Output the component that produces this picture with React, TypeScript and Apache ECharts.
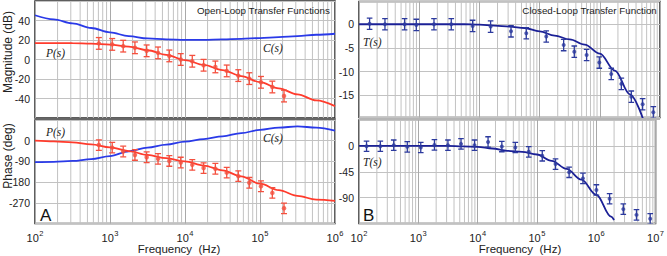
import React, { useEffect, useRef } from "react";
import * as echarts from "echarts";

// ---------- data ----------
// Open-loop curves (left panel), quarter-decade samples
const leftCurveF = [100, 178, 316, 562, 1000, 1778, 3162, 5623, 10000, 17783, 31623, 56234, 100000, 177828, 316228, 562341, 1000000];
const pMagCurve = [16.8, 16.8, 16.7, 16.3, 15.3, 13.2, 9.5, 4.8, -0.6, -5.6, -10.8, -17.0, -23.2, -29.6, -35.8, -42.0, -47.8];
const cMagCurve = [45.4, 41.2, 37.1, 32.3, 27.8, 24.0, 21.6, 20.6, 20.2, 20.2, 20.6, 21.2, 22.0, 23.0, 24.0, 25.4, 26.4];
const pPhaseCurve = [0, -3, -7, -16, -29, -45, -62, -76, -90, -108, -129, -155, -187, -215, -240, -256, -262];
const cPhaseCurve = [-93, -92, -88, -80, -67, -46, -30, -17, -4, 7, 19, 33, 47, 57, 62, 57, 44];

// Open-loop measurements
const pPointF = [710, 1070, 1500, 2150, 3080, 4370, 6180, 8770, 12500, 17700, 25400, 36000, 51400, 72000, 103000, 146000, 209000];
const pMagPts = [16.5, 15.5, 13.7, 12, 8.9, 6.8, 3.7, 0, -1.8, -5.9, -7.6, -11.7, -16.5, -19.6, -23.4, -28.2, -37.5];
const pPhasePts = [-19, -30, -47, -62, -72, -79, -88, -95, -105, -119, -122, -139, -154, -183, -198, -227, -294];
const pMagErr = 6;
const pPhaseErr = 23;

// Closed-loop curves (right panel)
const tMagCurveF = [100, 178, 316, 562, 1000, 1778, 3162, 5623, 10000, 17783, 31623, 56234, 100000, 177828, 316228, 562341, 1000000, 1778279, 3162278, 5623413];
const tMagCurve = [0, 0, 0, 0, 0, 0, 0, 0, -0.1, -0.3, -0.5, -0.8, -1.5, -2.4, -3.2, -4.3, -6.2, -9.8, -14.8, -21.2];
const tPhaseCurveF = [100, 178, 316, 562, 1000, 1778, 3162, 5623, 10000, 17783, 31623, 56234, 100000, 177828, 316228, 562341, 1000000, 1778279, 2000000];
const tPhaseCurve = [0, 0, 0, 0, 0, 0, 0, -1, -1.7, -4.6, -8.7, -10.4, -15, -26, -40, -58.8, -85, -123, -129];

// Closed-loop measurements
const tMagF = [150, 270, 572, 895, 1760, 3410, 7710, 15350, 33500, 60100, 129000, 251000, 377000, 604000, 981000, 1550000, 2280000, 3340000, 5140000, 7740000];
const tMagPts = [0.1, 0, 0, -0.15, 0, 0, -0.36, -0.5, -1.5, -1.9, -2.6, -4.4, -5.8, -6.5, -8.1, -10.5, -12.6, -15.3, -16.9, -18.6];
const tPhaseF = [134, 229, 385, 652, 1100, 1870, 3160, 5250, 8870, 15000, 25600, 43200, 72800, 123000, 206000, 349000, 597000, 1007000, 1680000, 2860000, 4770000, 8130000];
const tPhasePts = [-0.6, -0.6, 1.2, -1.7, -2.9, 1.7, 1.2, 3.5, 1.2, 6.9, -1.2, -2.9, -10.4, -17.3, -31.7, -46, -56.5, -76.6, -91.9, -110, -120, -126.8];
const tMagErr = 1.2;
const tPhaseErr = 9;

// axis ranges / ticks
const leftDecades = [2, 3, 4, 5];
const rightDecades = [2, 3, 4, 5, 6];
const magTicksLeft = [-40, -20, 0, 20, 40];
const phaseTicksLeft = [0, -90, -180, -270];
const magTicksRight = [0, -5, -10, -15];
const phaseTicksRight = [0, -45, -90];

// ---------- styling ----------
const RED = "#ff3b2c";
const RED_PT = "#f4503f";
const BLUE = "#2a3ae8";
const NAVY = "#1b2096";
const NAVY_PT = "#2c3a9e";
const GRID_MINOR = "#c2c2c2";
const GRID_MAJOR = "#a9a9a9";
const FRAME = "#2a2a2a";
const SANS = "Liberation Sans, Arial, sans-serif";
const SERIF = "Liberation Serif, Times New Roman, serif";

const zip = (xs: number[], ys: number[]) => xs.map((x, i) => [x, ys[i]]);
const errData = (xs: number[], ys: number[], e: number) => xs.map((x, i) => [x, ys[i] - e, ys[i] + e, ys[i]]);

function minorFreqs(decades: number[]) {
  const out: number[] = [];
  decades.forEach((d) => {
    for (let k = 2; k <= 9; k++) out.push(k * Math.pow(10, d));
  });
  return out;
}

function vGridSeries(xi: number, freqs: number[]) {
  return {
    type: "custom",
    xAxisIndex: xi,
    yAxisIndex: xi,
    z: 1,
    silent: true,
    clip: true,
    data: freqs.map((f) => [f]),
    encode: { x: 0 },
    renderItem: (params: any, api: any) => {
      const cs = params.coordSys;
      const x = api.coord([api.value(0), 0])[0];
      return {
        type: "line",
        shape: { x1: x, y1: cs.y, x2: x, y2: cs.y + cs.height },
        style: { stroke: GRID_MINOR, lineWidth: 1 },
      };
    },
  };
}

function errSeries(xi: number, data: number[][], color: string, cap: number) {
  return {
    type: "custom",
    xAxisIndex: xi,
    yAxisIndex: xi,
    z: 4,
    silent: true,
    clip: true,
    data,
    encode: { x: 0, y: [1, 2] },
    renderItem: (params: any, api: any) => {
      const x = api.value(0);
      const p1 = api.coord([x, api.value(1)]);
      const p2 = api.coord([x, api.value(2)]);
      const style = { stroke: color, lineWidth: 1.3 };
      return {
        type: "group",
        children: [
          { type: "line", shape: { x1: p1[0], y1: p1[1], x2: p2[0], y2: p2[1] }, style },
          { type: "line", shape: { x1: p1[0] - cap, y1: p1[1], x2: p1[0] + cap, y2: p1[1] }, style },
          { type: "line", shape: { x1: p2[0] - cap, y1: p2[1], x2: p2[0] + cap, y2: p2[1] }, style },
        ],
      };
    },
  };
}

function lineSeries(xi: number, data: number[][], color: string, width: number) {
  return {
    type: "line",
    xAxisIndex: xi,
    yAxisIndex: xi,
    data,
    z: 3,
    smooth: 0.35,
    smoothMonotone: "x",
    showSymbol: false,
    symbol: "none",
    clip: true,
    silent: true,
    lineStyle: { color, width },
  };
}

function scatterSeries(xi: number, data: number[][], color: string, size: number) {
  return {
    type: "scatter",
    xAxisIndex: xi,
    yAxisIndex: xi,
    data,
    z: 5,
    silent: true,
    symbol: "circle",
    symbolSize: size,
    itemStyle: { color },
  };
}

const xLabel = {
  show: true,
  fontFamily: SANS,
  color: "#222",
  margin: 6,
  formatter: (v: number) => `{b|10}{s|${Math.round(Math.log10(v))}}`,
  rich: {
    b: { fontSize: 11, fontFamily: SANS, color: "#222", lineHeight: 14, verticalAlign: "bottom" },
    s: { fontSize: 7.5, fontFamily: SANS, color: "#222", lineHeight: 14, verticalAlign: "top", padding: [0, 0, 0, 0.5] },
  },
};

function xAxis(grid: number, max: number, showLabel: boolean) {
  return {
    type: "log",
    logBase: 10,
    gridIndex: grid,
    min: 100,
    max,
    axisLine: { show: false },
    axisTick: { show: false },
    splitLine: { show: true, lineStyle: { color: GRID_MAJOR, width: 1 } },
    axisLabel: showLabel ? xLabel : { show: false },
  };
}

function yAxis(grid: number, min: number, max: number, interval: number | undefined, shown: number[], margin: number) {
  const a: any = {
    type: "value",
    gridIndex: grid,
    min,
    max,
    axisLine: { show: false },
    axisTick: { show: false },
    splitLine: { show: true, lineStyle: { color: GRID_MINOR, width: 1 } },
    axisLabel: {
      fontFamily: SANS,
      fontSize: 10.5,
      color: "#222",
      margin,
      showMinLabel: false,
      showMaxLabel: false,
      formatter: (v: number) => (shown.some((s) => Math.abs(s - v) < 1e-6) ? String(v) : ""),
    },
  };
  if (interval !== undefined) a.interval = interval;
  else a.splitNumber = 5;
  return a;
}

const gridBase = { show: true, backgroundColor: "#ffffff", borderColor: FRAME, borderWidth: 1.5 };

export default function App() {
  const ref = useRef<HTMLDivElement>(null);

  useEffect(() => {
    if (!ref.current) return;
    const chart = echarts.init(ref.current, undefined, { renderer: "svg" });
    const option: any = {
      animation: false,
      backgroundColor: "#ffffff",
      grid: [
        { ...gridBase, left: 35, top: 1, width: 300, height: 117 },
        { ...gridBase, left: 35, top: 120, width: 300, height: 103.5 },
        { ...gridBase, left: 359, top: 1.5, width: 301, height: 116 },
        { ...gridBase, left: 359, top: 120, width: 301, height: 103.5 },
      ],
      xAxis: [xAxis(0, 1e6, false), xAxis(1, 1e6, true), xAxis(2, 1e7, false), xAxis(3, 1e7, true)],
      yAxis: [
        yAxis(0, -60, 60, 20, magTicksLeft, 5),
        yAxis(1, -360, 90, 90, phaseTicksLeft, 5),
        yAxis(2, -19.7, 4.8, undefined, magTicksRight, 5),
        yAxis(3, -135, 45, 45, phaseTicksRight, 5),
      ],
      series: [
        vGridSeries(0, minorFreqs(leftDecades)),
        vGridSeries(1, minorFreqs(leftDecades)),
        vGridSeries(2, minorFreqs(rightDecades)),
        vGridSeries(3, minorFreqs(rightDecades)),

        lineSeries(0, zip(leftCurveF, cMagCurve), BLUE, 1.8),
        lineSeries(0, zip(leftCurveF, pMagCurve), RED, 1.8),
        errSeries(0, errData(pPointF, pMagPts, pMagErr), RED_PT, 3),
        scatterSeries(0, zip(pPointF, pMagPts), RED_PT, 4.5),

        lineSeries(1, zip(leftCurveF, cPhaseCurve), BLUE, 1.8),
        lineSeries(1, zip(leftCurveF, pPhaseCurve), RED, 1.8),
        errSeries(1, errData(pPointF, pPhasePts, pPhaseErr), RED_PT, 3),
        scatterSeries(1, zip(pPointF, pPhasePts), RED_PT, 4.5),

        lineSeries(2, zip(tMagCurveF, tMagCurve), NAVY, 1.8),
        errSeries(2, errData(tMagF, tMagPts, tMagErr), NAVY_PT, 2.8),
        scatterSeries(2, zip(tMagF, tMagPts), NAVY_PT, 4),

        lineSeries(3, zip(tPhaseCurveF, tPhaseCurve), NAVY, 1.8),
        errSeries(3, errData(tPhaseF, tPhasePts, tPhaseErr), NAVY_PT, 2.8),
        scatterSeries(3, zip(tPhaseF, tPhasePts), NAVY_PT, 4),
      ],
      graphic: [
        { type: "rect", shape: { x: 35, y: 118, width: 300, height: 2 }, z: 15, silent: true, style: { fill: "#666" } },
        { type: "rect", shape: { x: 359, y: 118, width: 301, height: 2 }, z: 15, silent: true, style: { fill: "#b5b5b5" } },
        { type: "text", right: 337, top: 5.5, z: 20, style: { text: "Open-Loop Transfer Functions", font: `9.8px ${SANS}`, fill: "#222" } },
        { type: "text", right: 10, top: 5.5, z: 20, style: { text: "Closed-Loop Transfer Function", font: `9.8px ${SANS}`, fill: "#222" } },
        { type: "text", x: 46, y: 53, z: 20, style: { text: "P(s)", font: `italic 11.5px ${SERIF}`, fill: "#222", textVerticalAlign: "middle" } },
        { type: "text", x: 263, y: 48, z: 20, style: { text: "C(s)", font: `italic 11.5px ${SERIF}`, fill: "#222", textVerticalAlign: "middle" } },
        { type: "text", x: 46, y: 131.5, z: 20, style: { text: "P(s)", font: `italic 11.5px ${SERIF}`, fill: "#222", textVerticalAlign: "middle" } },
        { type: "text", x: 263, y: 137.5, z: 20, style: { text: "C(s)", font: `italic 11.5px ${SERIF}`, fill: "#222", textVerticalAlign: "middle" } },
        { type: "text", x: 363, y: 41.5, z: 20, style: { text: "T(s)", font: `italic 11.5px ${SERIF}`, fill: "#222", textVerticalAlign: "middle" } },
        { type: "text", x: 363, y: 161.5, z: 20, style: { text: "T(s)", font: `italic 11.5px ${SERIF}`, fill: "#222", textVerticalAlign: "middle" } },
        { type: "text", x: 40, y: 215, z: 20, style: { text: "A", font: `17px ${SANS}`, fill: "#111", textVerticalAlign: "middle" } },
        { type: "text", x: 363, y: 215, z: 20, style: { text: "B", font: `17px ${SANS}`, fill: "#111", textVerticalAlign: "middle" } },
        { type: "text", x: 8, y: 52, rotation: Math.PI / 2, z: 20, style: { text: "Magnitude (dB)", font: `12px ${SANS}`, fill: "#222", textAlign: "center", textVerticalAlign: "middle" } },
        { type: "text", x: 8, y: 156, rotation: Math.PI / 2, z: 20, style: { text: "Phase (deg)", font: `12px ${SANS}`, fill: "#222", textAlign: "center", textVerticalAlign: "middle" } },
        { type: "text", x: 179, y: 249, z: 20, style: { text: "Frequency  (Hz)", font: `11.5px ${SANS}`, fill: "#222", textAlign: "center", textVerticalAlign: "middle" } },
        { type: "text", x: 520, y: 249, z: 20, style: { text: "Frequency  (Hz)", font: `11.5px ${SANS}`, fill: "#222", textAlign: "center", textVerticalAlign: "middle" } },
      ],
    };
    chart.setOption(option);
    return () => chart.dispose();
  }, []);

  return <div ref={ref} style={{ position: "absolute", left: 0, top: 0, width: 667, height: 256 }} />;
}
